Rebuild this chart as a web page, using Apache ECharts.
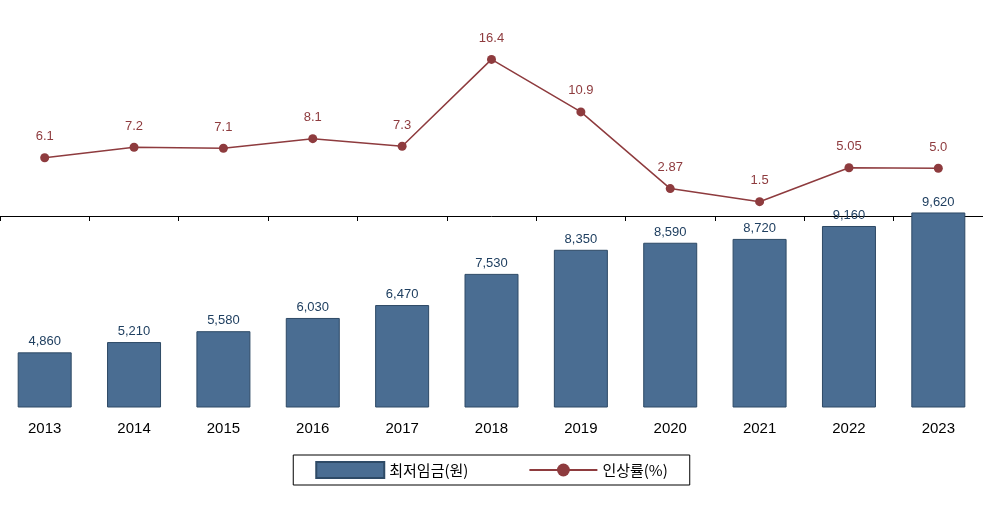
<!DOCTYPE html>
<html><head><meta charset="utf-8">
<script src="https://cdn.jsdelivr.net/npm/echarts@6/dist/echarts.min.js"></script>
<style>html,body{margin:0;padding:0;background:#fff}#c{width:983px;height:513px}</style>
</head><body><div id="c"></div>
<script>
const years = ['2013','2014','2015','2016','2017','2018','2019','2020','2021','2022','2023'];
const wage = [4860,5210,5580,6030,6470,7530,8350,8590,8720,9160,9620];
const rate = [6.1,7.2,7.1,8.1,7.3,16.4,10.9,2.87,1.5,5.05,5.0];
const rateLabels = ['6.1','7.2','7.1','8.1','7.3','16.4','10.9','2.87','1.5','5.05','5.0'];
const font = 'Liberation Sans, Arial, sans-serif';
const chart = echarts.init(document.getElementById('c'));
chart.setOption({
  animation:false,
  grid:{left:-1,right:-6,top:25,bottom:106,containLabel:false},
  legend:{bottom:28,left:'center',borderColor:'#000',borderWidth:1,borderRadius:0,padding:[6,22],itemGap:60,itemWidth:68,itemHeight:16,
    textStyle:{fontSize:15,color:'#000',fontFamily:'Noto Sans CJK KR'},
    data:[{name:'최저임금(원)',icon:'rect'},{name:'인상률(%)'}]},
  xAxis:{type:'category',data:years,axisTick:{show:true,length:5,lineStyle:{color:'#000'}},
    axisLine:{lineStyle:{color:'#000'}},axisLabel:{fontSize:15,color:'#000',fontFamily:font,margin:14}},
  yAxis:[{type:'value',min:3000,max:16000,show:false,splitLine:{show:false}},
         {type:'value',min:-20,max:20,show:false,splitLine:{show:false}}],
  series:[
    {name:'최저임금(원)',type:'bar',data:wage,barWidth:54,
     itemStyle:{color:'#4A6D92',borderColor:'#2E4A66',borderWidth:1},
     label:{show:true,position:'top',fontSize:13,color:'#1F3F60',fontFamily:font,distance:4,
       formatter:p=>p.value.toLocaleString('en-US')}},
    {name:'인상률(%)',type:'line',yAxisIndex:1,data:rate,symbol:'circle',symbolSize:9,
     itemStyle:{color:'#8E3B3E'},lineStyle:{color:'#8E3B3E',width:1.5},
     label:{show:true,position:'top',fontSize:13,color:'#8E3B3E',fontFamily:font,distance:10,
       formatter:p=>rateLabels[p.dataIndex]}}
  ]
});
</script></body></html>
